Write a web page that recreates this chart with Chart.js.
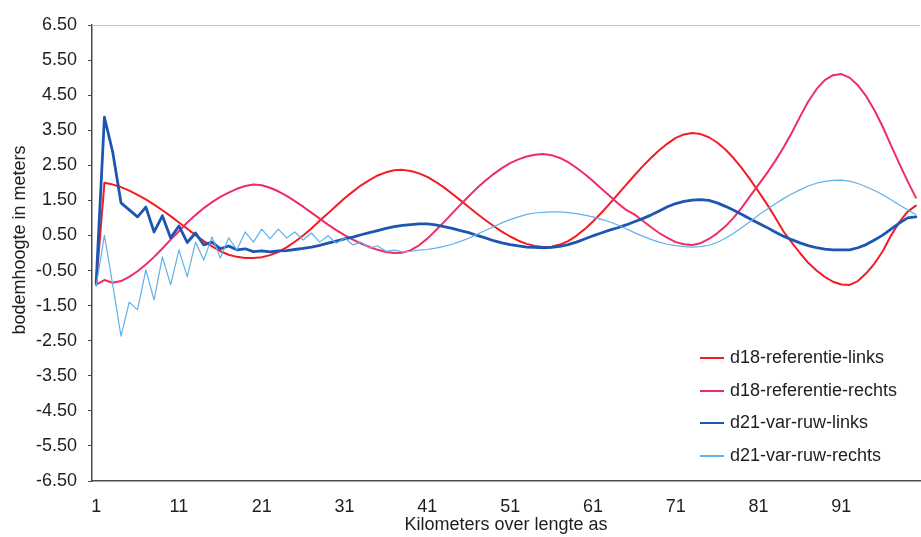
<!DOCTYPE html>
<html>
<head>
<meta charset="utf-8">
<script src="https://cdn.jsdelivr.net/npm/chart.js@4.4.1/dist/chart.umd.min.js"></script>
<style>
  html, body { margin: 0; padding: 0; background: #ffffff; }
  #wrap { width: 921px; height: 537px; }
</style>
</head>
<body>
<div id="wrap"><canvas id="c" width="921" height="537"></canvas></div>
<script>
// Kilometre positions along the axis
const km = Array.from({ length: 100 }, (_, i) => i + 1);
const xTickLabels = [1, 11, 21, 31, 41, 51, 61, 71, 81, 91];
const yTickValues = [-6.5, -5.5, -4.5, -3.5, -2.5, -1.5, -0.5, 0.5, 1.5, 2.5, 3.5, 4.5, 5.5, 6.5];
const yTitle = 'bodemhoogte in meters';
const xTitle = 'Kilometers over lengte as';

// Bed level (m) per kilometre
const d18RefLinks = [
  -0.90, 2.00, 1.95, 1.88, 1.78, 1.66, 1.53, 1.38, 1.22, 1.05,
   0.87, 0.69, 0.51, 0.34, 0.19, 0.05, -0.05, -0.11, -0.14, -0.14,
  -0.12, -0.06, 0.03, 0.16, 0.32, 0.50, 0.70, 0.92, 1.13, 1.35,
   1.56, 1.75, 1.93, 2.08, 2.21, 2.30, 2.36, 2.37, 2.34, 2.27,
   2.17, 2.03, 1.87, 1.69, 1.50, 1.31, 1.12, 0.94, 0.77, 0.61,
   0.47, 0.35, 0.26, 0.20, 0.17, 0.18, 0.24, 0.34, 0.49, 0.68,
   0.90, 1.14, 1.40, 1.67, 1.94, 2.21, 2.47, 2.71, 2.93, 3.12,
   3.28, 3.38, 3.42, 3.39, 3.30, 3.15, 2.95, 2.70, 2.41, 2.09,
   1.75, 1.40, 1.02, 0.62, 0.30, 0.00, -0.28, -0.50, -0.68, -0.82,
  -0.90, -0.91, -0.80, -0.58, -0.30, 0.05, 0.50, 0.88, 1.18, 1.35
];
const d18RefRechts = [
  -0.90, -0.77, -0.85, -0.80, -0.68, -0.52, -0.33, -0.11, 0.13, 0.38,
   0.62, 0.87, 1.08, 1.28, 1.45, 1.60, 1.72, 1.83, 1.91, 1.95,
   1.93, 1.86, 1.76, 1.63, 1.48, 1.32, 1.15, 0.98, 0.81, 0.65,
   0.51, 0.38, 0.27, 0.17, 0.09, 0.03, 0.00, 0.01, 0.08, 0.22,
   0.41, 0.64, 0.88, 1.13, 1.38, 1.62, 1.85, 2.06, 2.25, 2.42,
   2.56, 2.67, 2.75, 2.80, 2.82, 2.79, 2.71, 2.59, 2.43, 2.25,
   2.05, 1.84, 1.63, 1.42, 1.23, 1.10, 0.92, 0.74, 0.57, 0.43,
   0.31, 0.25, 0.23, 0.28, 0.40, 0.56, 0.76, 1.01, 1.30, 1.63,
   1.95, 2.27, 2.62, 3.00, 3.42, 3.88, 4.32, 4.67, 4.93, 5.07,
   5.10, 5.00, 4.78, 4.47, 4.07, 3.60, 3.07, 2.55, 2.05, 1.58
];
const d21VarRuwLinks = [
  -0.85, 3.87, 2.88, 1.43, 1.23, 1.03, 1.31, 0.60, 1.06, 0.43,
   0.77, 0.30, 0.57, 0.23, 0.31, 0.12, 0.20, 0.09, 0.12, 0.04,
   0.06, 0.03, 0.06, 0.07, 0.10, 0.13, 0.17, 0.22, 0.28, 0.34,
   0.40, 0.45, 0.52, 0.58, 0.64, 0.70, 0.75, 0.79, 0.81, 0.83,
   0.83, 0.80, 0.75, 0.70, 0.64, 0.58, 0.50, 0.43, 0.35, 0.29,
   0.24, 0.20, 0.17, 0.16, 0.15, 0.16, 0.19, 0.24, 0.31, 0.40,
   0.49, 0.57, 0.65, 0.72, 0.80, 0.89, 0.98, 1.08, 1.20, 1.32,
   1.41, 1.47, 1.51, 1.52, 1.50, 1.43, 1.33, 1.22, 1.10, 0.97,
   0.85, 0.73, 0.60, 0.48, 0.38, 0.29, 0.21, 0.15, 0.11, 0.09,
   0.09, 0.09, 0.15, 0.24, 0.37, 0.51, 0.68, 0.85, 1.00, 1.03
];
const d21VarRuwRechts = [
  -0.95, 0.50, -0.90, -2.37, -1.40, -1.62, -0.48, -1.34, -0.11, -0.91,
   0.09, -0.68, 0.31, -0.20, 0.46, -0.14, 0.43, 0.09, 0.60, 0.31,
   0.68, 0.40, 0.68, 0.43, 0.60, 0.37, 0.57, 0.31, 0.49, 0.28,
   0.43, 0.23, 0.31, 0.14, 0.20, 0.05, 0.08, 0.03, 0.05, 0.08,
   0.10, 0.14, 0.19, 0.25, 0.33, 0.42, 0.53, 0.64, 0.75, 0.86,
   0.95, 1.03, 1.10, 1.14, 1.16, 1.17, 1.17, 1.15, 1.12, 1.08,
   1.03, 0.96, 0.89, 0.80, 0.69, 0.58, 0.48, 0.39, 0.31, 0.25,
   0.21, 0.18, 0.17, 0.18, 0.22, 0.30, 0.42, 0.56, 0.73, 0.90,
   1.08, 1.24, 1.40, 1.55, 1.68, 1.80, 1.91, 1.99, 2.04, 2.07,
   2.08, 2.05, 1.98, 1.89, 1.78, 1.66, 1.52, 1.37, 1.23, 1.10
];

const FONT = "'Liberation Sans', Arial, sans-serif";
const TEXT = '#1e1e1e';
const AXIS = '#4a4a4a';

const showTick = (ctx) => ctx.index !== undefined && xTickLabels.includes(km[ctx.index]);

// Legend drawn in the lower right corner of the plot area
const cornerLegend = {
  id: 'cornerLegend',
  afterDraw(chart) {
    const { ctx } = chart;
    const rows = [358, 391, 423, 456];
    ctx.save();
    ctx.font = '18px ' + FONT;
    ctx.textBaseline = 'middle';
    ctx.fillStyle = TEXT;
    chart.data.datasets.forEach((ds, i) => {
      const y = rows[i];
      ctx.strokeStyle = ds.borderColor;
      ctx.lineWidth = 2;
      ctx.beginPath();
      ctx.moveTo(700, y);
      ctx.lineTo(724, y);
      ctx.stroke();
      ctx.fillText(ds.label, 730, y);
    });
    ctx.restore();
  }
};

// Rotated y-axis title, placed slightly above the plot's vertical middle
const sideTitle = {
  id: 'sideTitle',
  afterDraw(chart) {
    const { ctx } = chart;
    ctx.save();
    ctx.translate(20, 240);
    ctx.rotate(-Math.PI / 2);
    ctx.font = '18px ' + FONT;
    ctx.fillStyle = TEXT;
    ctx.textAlign = 'center';
    ctx.textBaseline = 'middle';
    ctx.fillText(yTitle, 0, 0);
    ctx.restore();
  }
};

// Light frame line along the top of the plot area
const plotFrame = {
  id: 'plotFrame',
  beforeDatasetsDraw(chart) {
    const { ctx, chartArea: a } = chart;
    ctx.save();
    ctx.strokeStyle = '#c4c4c4';
    ctx.lineWidth = 1;
    ctx.beginPath();
    ctx.moveTo(a.left, a.top + 0.5);
    ctx.lineTo(a.right, a.top + 0.5);
    ctx.stroke();
    ctx.restore();
  }
};

new Chart(document.getElementById('c'), {
  type: 'line',
  data: {
    labels: km,
    datasets: [
      { label: 'd18-referentie-links', data: d18RefLinks, borderColor: '#f41c24', borderWidth: 2, order: 3 },
      { label: 'd18-referentie-rechts', data: d18RefRechts, borderColor: '#ef2c66', borderWidth: 2, order: 2 },
      { label: 'd21-var-ruw-links', data: d21VarRuwLinks, borderColor: '#1c56b2', borderWidth: 2.8, order: 1 },
      { label: 'd21-var-ruw-rechts', data: d21VarRuwRechts, borderColor: '#62b0ea', borderWidth: 1.2, order: 0 }
    ]
  },
  options: {
    responsive: false,
    animation: false,
    devicePixelRatio: 1,
    elements: { point: { radius: 0 }, line: { tension: 0, borderCapStyle: 'round', borderJoinStyle: 'round' } },
    layout: { padding: { top: 25, right: 1, left: 0, bottom: 0 } },
    plugins: { legend: { display: false }, tooltip: { enabled: false } },
    scales: {
      x: {
        type: 'category',
        offset: true,
        afterFit(scale) { scale.height = 56; },
        border: { display: true, color: AXIS, width: 1.5 },
        grid: {
          offset: true,
          drawOnChartArea: false,
          drawTicks: true,
          tickLength: 4,
          color: (ctx) => showTick(ctx) ? AXIS : 'rgba(0,0,0,0)',
          tickColor: (ctx) => showTick(ctx) ? AXIS : 'rgba(0,0,0,0)'
        },
        ticks: {
          autoSkip: false,
          maxRotation: 0,
          padding: 11,
          color: TEXT,
          font: { family: FONT, size: 18 },
          callback(value, index) {
            return xTickLabels.includes(km[index]) ? String(km[index]) : null;
          }
        },
        title: {
          display: true,
          text: xTitle,
          color: TEXT,
          font: { family: FONT, size: 18 },
          padding: { top: 0, bottom: 1 }
        }
      },
      y: {
        min: -6.5,
        max: 6.5,
        afterFit(scale) { scale.width = 92; },
        afterBuildTicks(scale) { scale.ticks = yTickValues.map(v => ({ value: v })); },
        border: { display: true, color: AXIS, width: 1.5 },
        grid: { drawOnChartArea: false, drawTicks: true, tickLength: 4, color: AXIS },
        ticks: {
          padding: 11,
          color: TEXT,
          font: { family: FONT, size: 18 },
          callback: (v) => Number(v).toFixed(2)
        },
        title: { display: false }
      }
    }
  },
  plugins: [plotFrame, cornerLegend, sideTitle]
});
</script>
</body>
</html>
